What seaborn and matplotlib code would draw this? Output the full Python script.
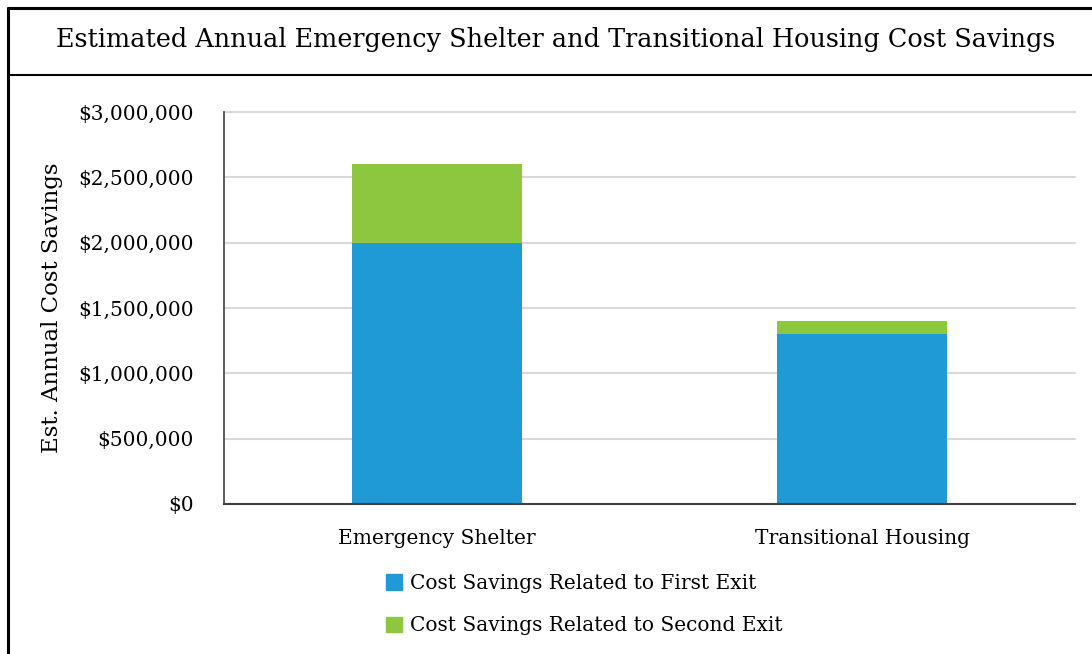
import matplotlib
matplotlib.use("Agg")
import matplotlib.pyplot as plt
from matplotlib.lines import Line2D
from matplotlib.patches import Patch
from matplotlib.ticker import FuncFormatter
import pandas as pd
import seaborn as sns

categories = ["Emergency Shelter", "Transitional Housing"]
first_exit = [2000000, 1300000]
second_exit = [600000, 100000]
series_names = ["Cost Savings Related to First Exit", "Cost Savings Related to Second Exit"]

blue = "#1F9AD6"
green = "#8DC63F"

df = pd.DataFrame({"category": categories, "first": first_exit, "second": second_exit})
df["total"] = df["first"] + df["second"]

sns.set_theme(style="white")
plt.rcParams["font.family"] = ["DejaVu Serif"]
plt.rcParams["text.color"] = "black"

fig = plt.figure(figsize=(10.92, 6.54), dpi=100)
ax = fig.add_axes([224 / 1092, 1 - 504 / 654, (1075 - 224) / 1092, (504 - 112) / 654])

# stacked bars: totals underneath, first exit on top of them
sns.barplot(data=df, x="category", y="total", color=green, width=0.4, saturation=1, linewidth=0, ax=ax)
sns.barplot(data=df, x="category", y="first", color=blue, width=0.4, saturation=1, linewidth=0, ax=ax)

ax.set_ylim(0, 3000000)
ax.set_xlim(-0.5, 1.5)
ax.set_yticks(range(0, 3000001, 500000))
ax.yaxis.set_major_formatter(FuncFormatter(lambda v, p: "${:,.0f}".format(v)))
ax.grid(axis="y", color="#D9D9D9", lw=1.5)
for gl in ax.get_ygridlines():
    gl.set_clip_on(False)
ax.set_axisbelow(True)
for s in ["top", "right"]:
    ax.spines[s].set_visible(False)
ax.spines["left"].set_color("#404040")
ax.spines["bottom"].set_color("#404040")
ax.spines["left"].set_linewidth(1.2)
ax.spines["bottom"].set_linewidth(1.5)
ax.tick_params(axis="both", length=0, labelsize=14.5, colors="black")
ax.tick_params(axis="y", pad=22)
ax.tick_params(axis="x", pad=18)
ax.set_xlabel("")
ax.set_ylabel("Est. Annual Cost Savings", fontsize=16.5, labelpad=11, color="black")

fig.text(0.509, 1 - 40 / 654, "Estimated Annual Emergency Shelter and Transitional Housing Cost Savings",
         ha="center", va="center", fontsize=18.4, color="black")

# outer frame and title box line
fig.add_artist(Line2D([8 / 1092, 8 / 1092], [0, 1 - 8 / 654], color="black", lw=2.2))
fig.add_artist(Line2D([8 / 1092, 1], [1 - 8 / 654, 1 - 8 / 654], color="black", lw=2.2))
fig.add_artist(Line2D([8 / 1092, 1], [1 - 75 / 654, 1 - 75 / 654], color="black", lw=1.5))

handles = [Patch(color=blue), Patch(color=green)]
leg = fig.legend(handles, series_names, loc="upper left", bbox_to_anchor=(378 / 1092, 1 - 566 / 654),
                 frameon=False, fontsize=14.5, handlelength=0.8, handleheight=0.8, handletextpad=0.4,
                 labelspacing=1.15, borderaxespad=0)
for t in leg.get_texts():
    t.set_color("black")

fig.savefig("out.png", dpi=100)
